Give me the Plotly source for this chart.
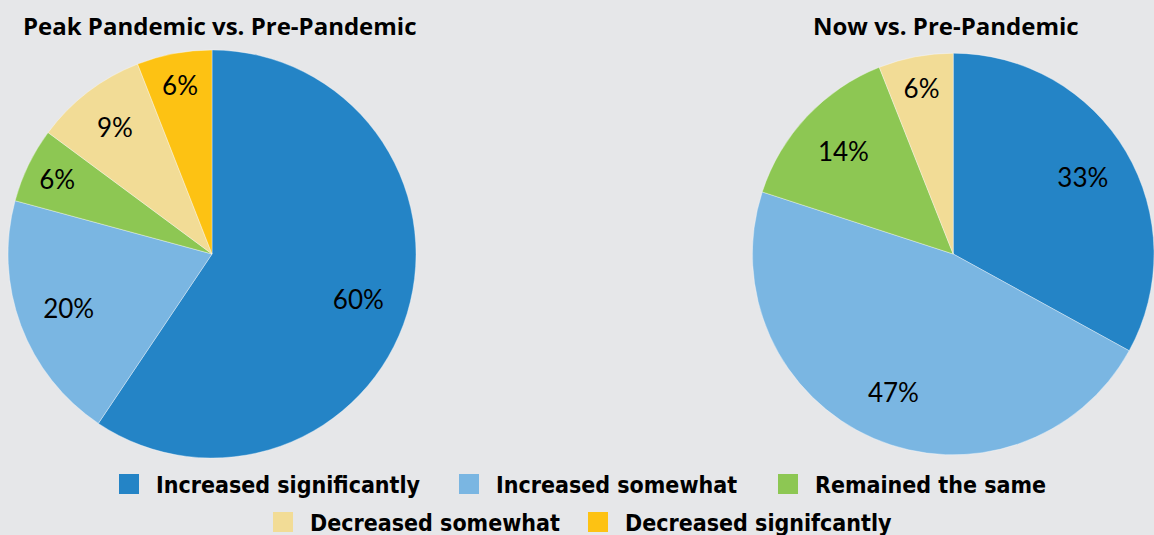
import plotly.graph_objects as go

categories = ["Increased significantly", "Increased somewhat", "Remained the same",
              "Decreased somewhat", "Decreased signifcantly"]
colors = ["#2484c6", "#7ab6e2", "#8dc753", "#f2dc96", "#fdc213"]

peak_values = [60, 20, 6, 9, 6]
now_values = [33, 47, 14, 6, 0]

left_title = "Peak Pandemic vs. Pre-Pandemic"
right_title = "Now vs. Pre-Pandemic"

W, H = 1154, 535
BG = "#e6e7e9"
LABEL_FONT = dict(family="Lato, 'Open Sans', sans-serif", size=26, color="black")
LEGEND_FONT = dict(family="'DejaVu Sans Condensed', 'Liberation Sans Narrow', sans-serif",
                   size=23, color="black", weight="bold")
TITLE_FONT = dict(family="'Open Sans', Lato, sans-serif", size=24, color="black", weight="bold")

# legend key centres in pixels (two rows)
KEY_X = [129, 469, 788, 283, 598]
KEY_Y = [484, 484, 484, 522, 522]
ITEM_W = 44

fig = go.Figure()

pie_y = [77 / H, 485 / H]


def add_pie(values, xdom):
    labels = [c for c, v in zip(categories, values) if v > 0]
    vals = [v for v in values if v > 0]
    cols = [col for col, v in zip(colors, values) if v > 0]
    common = dict(labels=labels, values=vals, sort=False, direction="clockwise", rotation=0,
                  hoverinfo="skip", showlegend=False, domain=dict(x=xdom, y=pie_y))
    # filled slices
    fig.add_trace(go.Pie(
        marker=dict(colors=cols, line=dict(color="rgba(255,255,255,0.6)", width=0.6)),
        textinfo="none", **common,
    ))
    # transparent ring on top that carries the percentage labels in the outer band
    fig.add_trace(go.Pie(
        hole=0.5,
        marker=dict(colors=["rgba(0,0,0,0)"] * len(vals), line=dict(width=0)),
        texttemplate="%{value}%", textposition="inside",
        insidetextorientation="horizontal", textfont=LABEL_FONT, **common,
    ))


add_pie(peak_values, [8 / W, 416 / W])
add_pie(now_values, [0.652, 1.0])

legend_layout = {}
for i, (name, col) in enumerate(zip(categories, colors)):
    key = "legend" if i == 0 else f"legend{i + 1}"
    fig.add_trace(go.Scatter(
        x=[None], y=[None], mode="markers", name=name,
        marker=dict(symbol="square", size=16, color=col, line=dict(color=col, width=4)),
        legend=key,
    ))
    legend_layout[key] = dict(
        orientation="h", xanchor="left", yanchor="middle",
        x=(KEY_X[i] - ITEM_W / 2 - 5) / W, y=1 - KEY_Y[i] / H,
        font=LEGEND_FONT, bgcolor="rgba(0,0,0,0)", itemwidth=ITEM_W,
        itemclick=False, itemdoubleclick=False,
    )

fig.update_layout(
    width=W, height=H,
    margin=dict(l=0, r=0, t=0, b=0, autoexpand=False),
    paper_bgcolor=BG, plot_bgcolor=BG,
    xaxis=dict(visible=False), yaxis=dict(visible=False),
    annotations=[
        dict(text=left_title, x=220 / W, y=1 - 25 / H, xref="paper", yref="paper",
             showarrow=False, xanchor="center", yanchor="middle", font=TITLE_FONT),
        dict(text=right_title, x=946 / W, y=1 - 25 / H, xref="paper", yref="paper",
             showarrow=False, xanchor="center", yanchor="middle", font=TITLE_FONT),
    ],
    **legend_layout,
)

fig.write_html("out.html")
